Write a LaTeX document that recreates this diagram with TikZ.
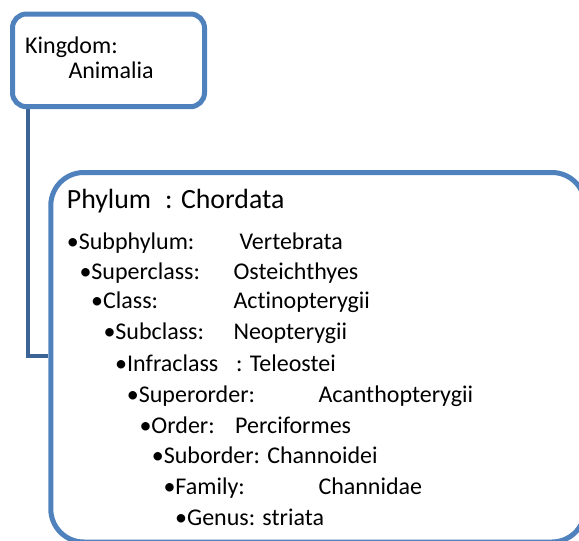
\documentclass[tikz,border=0pt]{standalone}
\usepackage{fontspec}
\setmainfont{Carlito}[Ligatures={NoCommon}]
\usetikzlibrary{backgrounds}
\definecolor{boxblue}{RGB}{79,129,189}
\definecolor{linkblue}{RGB}{61,100,150}
\begin{document}
\begin{tikzpicture}[x=1pt,y=-1pt,
  box/.style={draw=boxblue, line width=5pt, fill=white, rectangle, inner sep=0pt},
  link/.style={draw=linkblue, line width=4.5pt},
  txt/.style={anchor=base west, inner sep=0pt, font=\fontsize{24}{29}\selectfont},
  head/.style={anchor=base west, inner sep=0pt, font=\fontsize{27.8}{33}\selectfont}]
\useasboundingbox (0,0) rectangle (579,541);
\clip (0,0) rectangle (579,541);
% boxes
\node[box, rounded corners=14pt, minimum width=192pt, minimum height=92.7pt] (kingdom) at (108.5,60.35) {};
\node[box, rounded corners=33pt, minimum width=534.2pt, minimum height=369.5pt] (phylumbox) at (317.9,357.25) {};
% connector
\begin{scope}[on background layer]
\draw[link] ([xshift=18pt]kingdom.south west) |- (phylumbox.west |- 0,356);
\end{scope}
% kingdom text
\node[txt] (k1) at (25,53.3) {Kingdom:};
\node[txt] (k2) at (68.3,78.3) {Animalia};
% phylum
\node[head] (ph1) at (66.7,208.3) {Phylum};
\node[head] (ph2) at (165,208.3) {: Chordata};
% list
\node[txt] (l1) at (66.7,249.3) {•Subphylum:};
\node[txt] (v1) at (239.3,249.3) {Vertebrata};
\node[txt] (l2) at (79.3,279.3) {•Superclass:};
\node[txt] (v2) at (233.3,279.3) {Osteichthyes};
\node[txt] (l3) at (91,308.8) {•Class:};
\node[txt] (v3) at (233.3,308.8) {Actinopterygii};
\node[txt] (l4) at (103.3,339.3) {•Subclass:};
\node[txt] (v4) at (233.3,339.3) {Neopterygii};
\node[txt] (l5) at (115,371) {•Infraclass};
\node[txt] (v5) at (236,371) {: Teleostei};
\node[txt] (l6) at (126.7,402.3) {•Superorder:};
\node[txt] (v6) at (318.3,402.3) {Acanthopterygii};
\node[txt] (l7) at (139.3,433.3) {•Order:};
\node[txt] (v7) at (235,433.3) {Perciformes};
\node[txt] (l8) at (151.7,463.3) {•Suborder: Channoidei};
\node[txt] (l9) at (163.3,494.3) {•Family:};
\node[txt] (v9) at (318.3,494.3) {Channidae};
\node[txt] (l10) at (175,525) {•Genus: striata};
\end{tikzpicture}
\end{document}
